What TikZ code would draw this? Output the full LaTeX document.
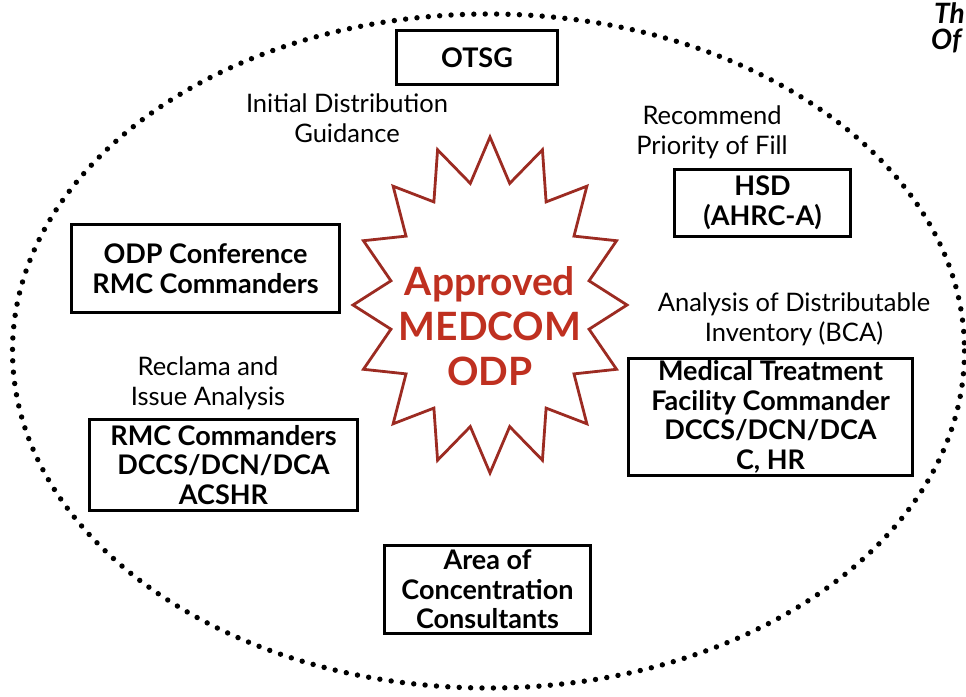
\documentclass[tikz,border=0pt]{standalone}
\usepackage{fontspec}
\setmainfont{Lato}
\definecolor{starred}{HTML}{9C2B22}
\definecolor{textred}{HTML}{BF3020}
\tikzset{
  box/.style={draw=black, line width=2.8pt, align=center, inner sep=0pt,
    font=\bfseries\fontsize{27}{29.5}\selectfont},
  lbl/.style={align=center, inner sep=0pt, font=\fontsize{25.5}{30}\selectfont},
  corner/.style={anchor=west, inner sep=0pt, font=\bfseries\itshape\fontsize{28}{28}\selectfont},
}
\begin{document}
\begin{tikzpicture}[x=1pt,y=-1pt]
\useasboundingbox (0,0) rectangle (966,696);
% dotted ellipse
\draw[line width=5.4pt, line cap=round, dash pattern=on 0pt off 11.4pt]
  (488.5,351) ellipse [x radius=476, y radius=337];
% star
\draw[starred, line width=2.8pt, line join=miter, fill=white]
  (490,473) \foreach \i in {0,...,15}{
    -- ({490+101*cos(101.25+22.5*\i)},{305+124*sin(101.25+22.5*\i)})
    -- ({490+137*cos(112.5+22.5*\i)},{305+168*sin(112.5+22.5*\i)})
  } -- cycle;
\node[align=center, text=textred, inner sep=0pt,
  font=\bfseries\fontsize{39}{45}\selectfont] (odp) at (490,326)
  {Approved\\MEDCOM\\ODP};
% boxes
\node[box, minimum width=161, minimum height=54] (otsg) at (477,57.5) {OTSG};
\node[box, minimum width=176, minimum height=67] (hsd) at (762.5,203) {HSD\\(AHRC-A)};
\node[box, minimum width=268, minimum height=88] (conf) at (205.5,268.5) {ODP Conference\\RMC Commanders};
\node[box, minimum width=268, minimum height=91] (rmc) at (223.5,465) {RMC Commanders\\DCCS/DCN/DCA\\ACSHR};
\node[box, minimum width=284, minimum height=117] (mtf) at (770.5,417) {Medical Treatment\\Facility Commander\\DCCS/DCN/DCA\\C, HR};
\node[box, minimum width=206, minimum height=88] (aoc) at (487.5,589.5) {Area of\\Concentration\\Consultants};
% labels
\node[lbl] (l1) at (347,118) {Initial Distribution\\Guidance};
\node[lbl] (l2) at (712,132) {Recommend\\Priority of Fill};
\node[lbl] (l3) at (794,319) {Analysis of Distributable\\Inventory (BCA)};
\node[lbl] (l4) at (208,383) {Reclama and\\Issue Analysis};
% clipped corner title
\node[corner] (t1) at (934,13) {Th};
\node[corner] (t2) at (931,41) {Of};
\end{tikzpicture}
\end{document}
